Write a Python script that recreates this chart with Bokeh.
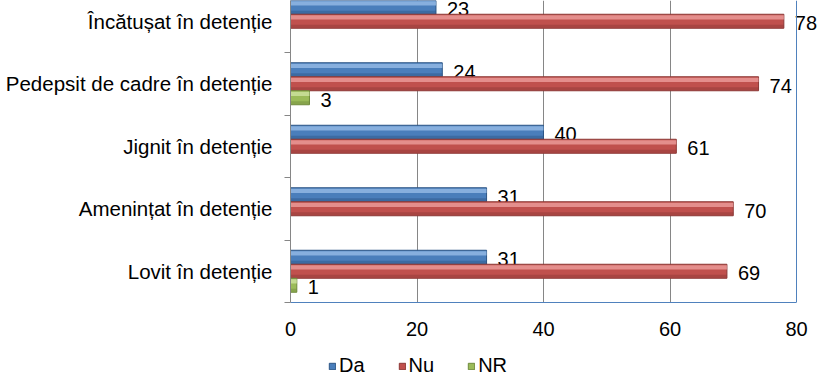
from bokeh.plotting import figure
from bokeh.models import ColumnDataSource, Range1d, FixedTicker, Span, Legend, LegendItem
from bokeh.layouts import column
from bokeh.transform import dodge
from bokeh.core.properties import value
from bokeh.embed import file_html
from bokeh.resources import INLINE

categories = ["Încătușat în detenție", "Pedepsit de cadre în detenție",
              "Jignit în detenție", "Amenințat în detenție", "Lovit în detenție"]
da = [23, 24, 40, 31, 31]
nu = [78, 74, 61, 70, 69]
nr = [None, 3, None, None, 1]
series_names = ["Da", "Nu", "NR"]
x_ticks = [0, 20, 40, 60, 80]

n = len(categories)
pos = [n - 1 - i for i in range(n)]  # first category at top

FONT = "Liberation Sans"
BAR_H = 0.224
series = [
    (series_names[0], da, BAR_H, "#4A7EBB", "#9CC0EA", "#2C5585"),
    (series_names[1], nu, 0.0, "#C0504D", "#F0A3A1", "#8C3836"),
    (series_names[2], nr, -BAR_H, "#9BBB59", "#D2E6A5", "#6F8A3C"),
]

W = 819
FRAME_L = 290          # px where the value axis starts
FRAME_80 = 506         # px width of the 0..80 span
x_end = x_ticks[-1] * (W - FRAME_L) / FRAME_80   # frame runs to the right edge

p = figure(width=W, height=346, output_backend="svg", toolbar_location=None,
           x_range=Range1d(0, x_end), y_range=Range1d(-0.5, 4.332),
           min_border_left=FRAME_L, min_border_right=0, min_border_top=0,
           min_border_bottom=44, title=None)
p.outline_line_color = None
p.background_fill_color = "white"
p.border_fill_color = "white"

# legend strip below the chart
pl = figure(width=W, height=28, output_backend="svg", toolbar_location=None,
            x_range=Range1d(0, 1), y_range=Range1d(0, 1),
            x_axis_location=None, y_axis_location=None,
            min_border_left=0, min_border_right=0, min_border_top=0, min_border_bottom=0,
            title=None)
pl.outline_line_color = None
pl.xgrid.visible = False
pl.ygrid.visible = False

legend_items = []
for name, vals, off, main, light, dark in series:
    ys = [pos[i] for i, v in enumerate(vals) if v is not None]
    xs = [v for v in vals if v is not None]
    src = ColumnDataSource(dict(y=ys, x=xs, lab=[str(v) for v in xs]))
    p.hbar(y=dodge("y", off), right="x", left=0, height=BAR_H, source=src,
           fill_color=main, line_color=dark, line_width=1)
    # bevel highlight / shade
    p.hbar(y=dodge("y", off + BAR_H * 0.28), right="x", left=0, height=BAR_H * 0.3,
           source=src, fill_color=light, fill_alpha=0.75, line_color=None)
    p.hbar(y=dodge("y", off - BAR_H * 0.36), right="x", left=0, height=BAR_H * 0.22,
           source=src, fill_color=dark, fill_alpha=0.45, line_color=None)
    p.text(x="x", y=dodge("y", off), text="lab", source=src, x_offset=11, y_offset=2,
           text_align="left", text_baseline="middle", text_font=value(FONT),
           text_font_size="20px", text_color="black")
    dummy = pl.hbar(y="y", right="x", left=0, height=0.5, source=src,
                    fill_color=main, line_color=dark, line_width=1, visible=False)
    legend_items.append(LegendItem(label=name, renderers=[dummy]))

# grid
p.ygrid.grid_line_color = None
p.xgrid.ticker = FixedTicker(ticks=x_ticks[1:-1])
p.xgrid.grid_line_color = "#868686"
p.xgrid.grid_line_width = 1

# right border of plot area
p.add_layout(Span(location=x_ticks[-1], dimension="height", line_color="#4F81BD", line_width=1))

# x axis
xa = p.xaxis[0]
xa.ticker = FixedTicker(ticks=x_ticks)
xa.bounds = (x_ticks[0], x_ticks[-1])
xa.axis_line_color = "#4F81BD"
xa.major_tick_line_color = None
xa.minor_tick_line_color = None
xa.major_label_standoff = 13
xa.major_label_text_font = FONT
xa.major_label_text_font_size = "20px"
xa.major_label_text_color = "black"

# y axis
ya = p.yaxis[0]
ya.ticker = FixedTicker(ticks=pos, minor_ticks=[q - 0.5 for q in pos] + [pos[0] + 0.5])
ya.major_label_overrides = {pos[i]: categories[i] for i in range(n)}
ya.axis_line_color = "#868686"
ya.major_tick_line_color = None
ya.minor_tick_line_color = "#868686"
ya.minor_tick_out = 6
ya.minor_tick_in = 0
ya.major_label_standoff = 12
ya.major_label_text_font = FONT
ya.major_label_text_font_size = "20.5px"
ya.major_label_text_color = "black"

legend = Legend(items=legend_items, location=(38, -3), orientation="horizontal",
                padding=0, margin=0, spacing=33, label_standoff=3,
                glyph_width=8, glyph_height=8, border_line_color=None,
                background_fill_alpha=0, label_text_font=FONT,
                label_text_font_size="20px", label_text_color="black")
pl.add_layout(legend, "center")

layout = column(p, pl, spacing=0)
open("out.html", "w").write(file_html(layout, INLINE))
